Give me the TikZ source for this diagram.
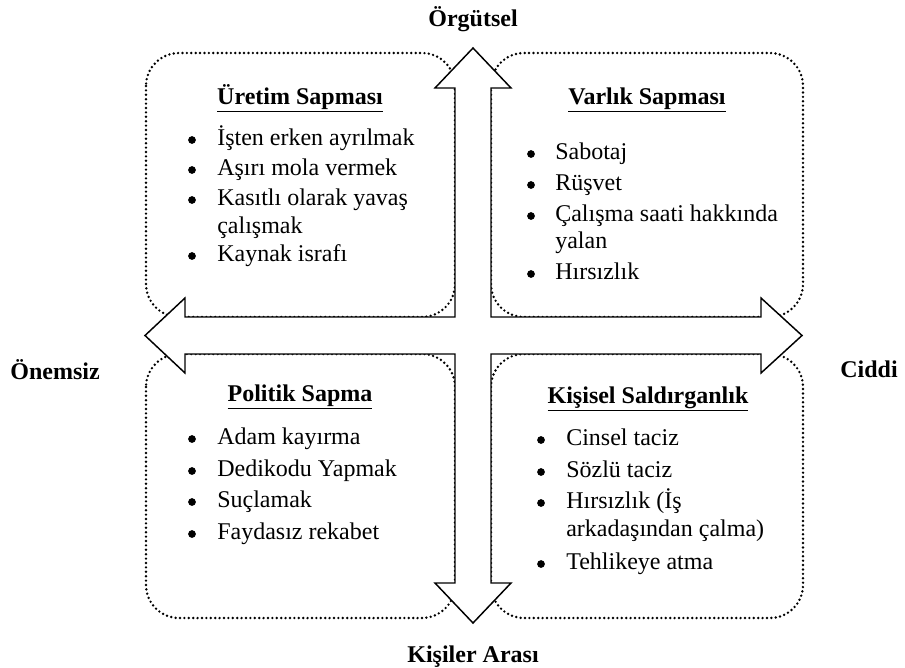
\documentclass[tikz,border=0pt]{standalone}
\usepackage{fontspec}
\setmainfont{Liberation Serif}
\begin{document}
\begin{tikzpicture}[x=0.75pt,y=-0.75pt,
  box/.style={line width=2pt, dash pattern=on 0pt off 3.3pt, line cap=round, rounded corners=24.75pt},
  cross/.style={draw=black, fill=white, line width=1.1pt, line join=miter},
  title/.style={font=\fontsize{18pt}{20pt}\selectfont\bfseries, inner sep=0pt, text height=1ex, text depth=0pt},
  item/.style={font=\fontsize{18pt}{20pt}\selectfont, anchor=west, inner sep=0pt, text height=1ex, text depth=0pt},
  bul/.style={circle, fill=black, inner sep=0pt, minimum size=5.8pt},
  side/.style={font=\fontsize{18pt}{20pt}\selectfont\bfseries, inner sep=0pt}]
\useasboundingbox (0,0) rectangle (905,667);
% dotted boxes
\draw[box] (146,53) rectangle (455,317);
\draw[box] (491,53) rectangle (803,317);
\draw[box] (146,354) rectangle (455,618);
\draw[box] (491,354) rectangle (803,618);
% four-way arrow
\draw[cross] (473,48) -- (511,88) -- (491,88) -- (491,317) -- (761,317) -- (761,298) -- (802,335.5)
  -- (761,373) -- (761,354) -- (491,354) -- (491,583) -- (511,583) -- (473,623) -- (435,583)
  -- (455,583) -- (455,354) -- (185,354) -- (185,373) -- (145,335.5) -- (185,298) -- (185,317)
  -- (455,317) -- (455,88) -- (435,88) -- cycle;
% side labels
\node[side] (org) at (473,19) {Örgütsel};
\node[side] (kis) at (473,657) {Kişiler Arası};
\node[side] (onem) at (55,370) {Önemsiz};
\node[side] (cid) at (869,369) {Ciddi};
% top-left
\node[title] (t1) at (300,101) {\underline{Üretim Sapması}};
\node[bul] (b11) at (192,140) {}; \node[item] (i11) at (217,142) {İşten erken ayrılmak};
\node[bul] (b12) at (192,170) {}; \node[item] (i12) at (217,172) {Aşırı mola vermek};
\node[bul] (b13) at (192,200) {}; \node[item] (i13) at (217,202) {Kasıtlı olarak yavaş};
\node[item] (i13b) at (217,230) {çalışmak};
\node[bul] (b14) at (192,256) {}; \node[item] (i14) at (217,258) {Kaynak israfı};
% top-right
\node[title] (t2) at (647,101) {\underline{Varlık Sapması}};
\node[bul] (b21) at (531,154) {}; \node[item] (i21) at (555,156) {Sabotaj};
\node[bul] (b22) at (531,185) {}; \node[item] (i22) at (555,187) {Rüşvet};
\node[bul] (b23) at (531,216) {}; \node[item] (i23) at (555,218) {Çalışma saati hakkında};
\node[item] (i23b) at (555,245) {yalan};
\node[bul] (b24) at (531,274) {}; \node[item] (i24) at (555,276) {Hırsızlık};
% bottom-left
\node[title] (t3) at (300,398) {\underline{Politik Sapma}};
\node[bul] (b31) at (192,439) {}; \node[item] (i31) at (217,441) {Adam kayırma};
\node[bul] (b32) at (192,471) {}; \node[item] (i32) at (217,473) {Dedikodu Yapmak};
\node[bul] (b33) at (192,502) {}; \node[item] (i33) at (217,504) {Suçlamak};
\node[bul] (b34) at (192,534) {}; \node[item] (i34) at (217,536) {Faydasız rekabet};
% bottom-right
\node[title] (t4) at (648,400) {\underline{Kişisel Saldırganlık}};
\node[bul] (b41) at (541,440) {}; \node[item] (i41) at (566,442) {Cinsel taciz};
\node[bul] (b42) at (541,472) {}; \node[item] (i42) at (566,474) {Sözlü taciz};
\node[bul] (b43) at (541,503) {}; \node[item] (i43) at (566,505) {Hırsızlık (İş};
\node[item] (i43b) at (566,533) {arkadaşından çalma)};
\node[bul] (b44) at (541,564) {}; \node[item] (i44) at (566,566) {Tehlikeye atma};
\end{tikzpicture}
\end{document}
